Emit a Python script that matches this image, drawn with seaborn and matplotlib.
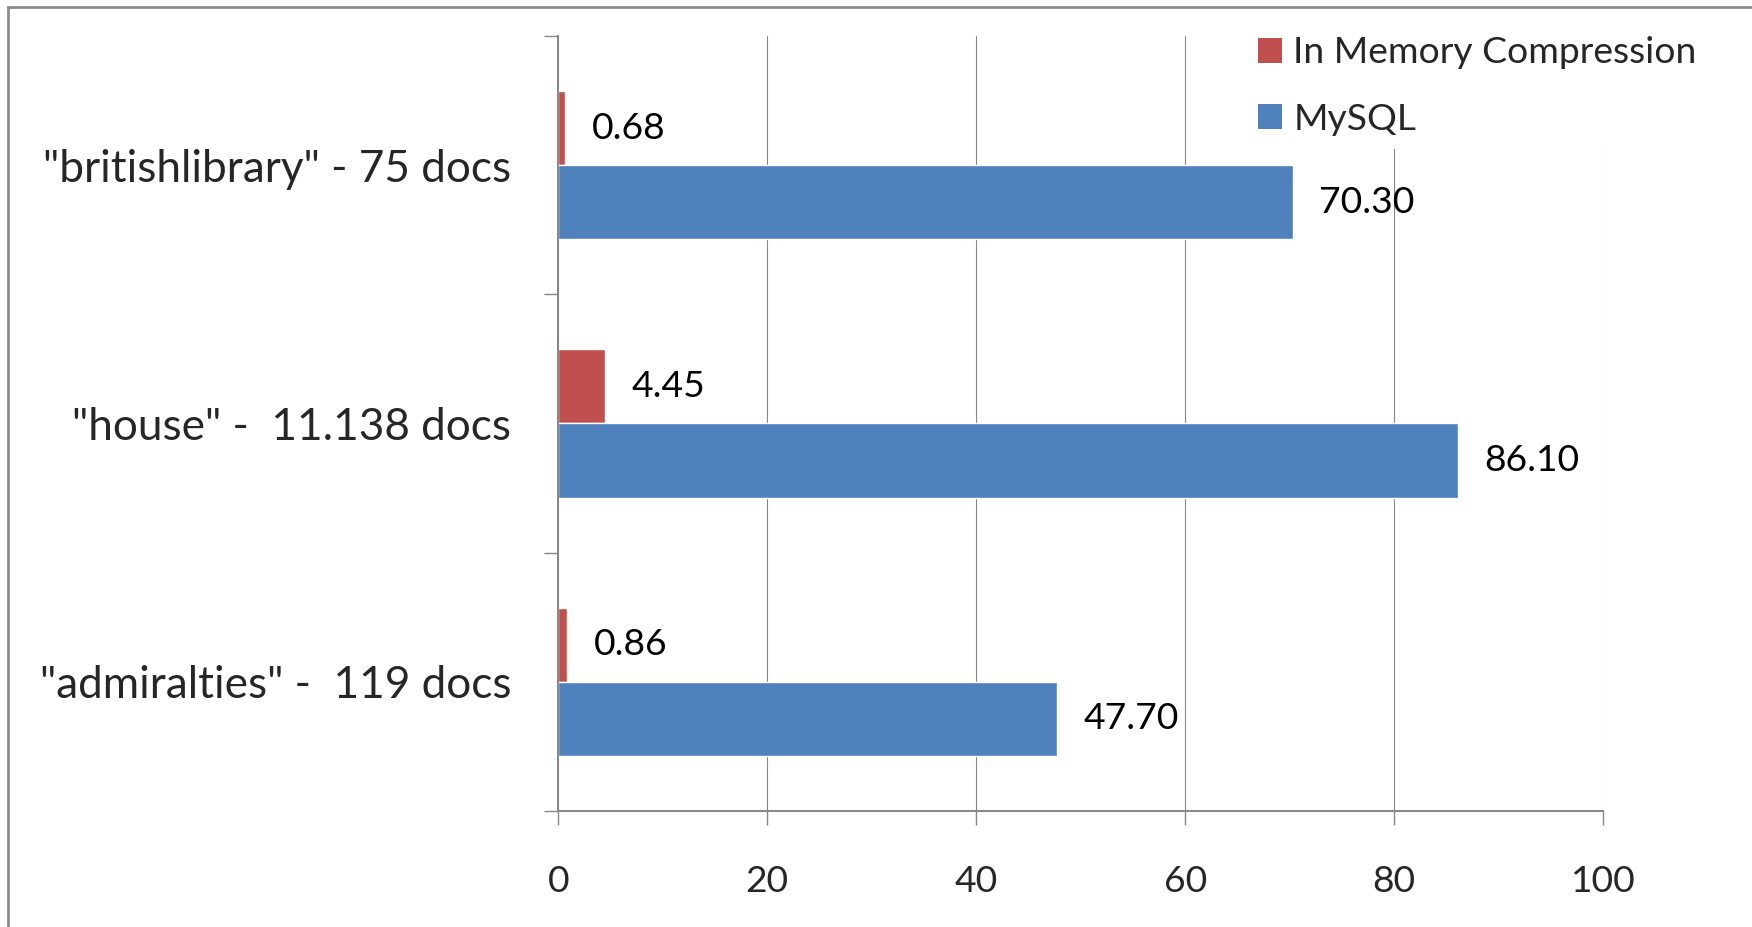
import matplotlib
matplotlib.use("Agg")
import matplotlib.pyplot as plt
import pandas as pd
import seaborn as sns
from matplotlib.patches import Patch, Rectangle
from matplotlib.ticker import FixedLocator

# Chart data (query time in seconds per dataset)
categories = ['"britishlibrary" - 75 docs', '"house" -  11.138 docs', '"admiralties" -  119 docs']
series_names = ["In Memory Compression", "MySQL"]
in_memory = [0.68, 4.45, 0.86]
mysql = [70.30, 86.10, 47.70]
x_ticks = [0, 20, 40, 60, 80, 100]
colors = ["#C0504D", "#4F81BD"]

df = pd.DataFrame({
    "dataset": categories * 2,
    "series": [series_names[0]] * len(categories) + [series_names[1]] * len(categories),
    "seconds": in_memory + mysql,
})

sns.set_style("white")
plt.rcParams["font.family"] = ["Lato", "DejaVu Sans"]

grey = "#868686"
fig = plt.figure(figsize=(17.52, 9.27), dpi=100)
ax = fig.add_axes([0.3187, 0.1251, 0.9150 - 0.3187, 0.9612 - 0.1251])

sns.barplot(data=df, x="seconds", y="dataset", hue="series",
            order=categories, hue_order=series_names, palette=colors,
            orient="h", width=0.575, gap=0, saturation=1, errorbar=None,
            legend=False, ax=ax)

# value labels to the right of each bar
for container in ax.containers:
    ax.bar_label(container, fmt="%.2f", padding=19, fontsize=26.8, color="black")

ax.set_xlim(0, 100)
ax.set_ylim(len(categories) - 0.5, -0.5)
ax.set_xticks(x_ticks)
ax.set_xlabel("")
ax.set_ylabel("")

# gridlines and spines in Excel grey
ax.set_axisbelow(True)
ax.grid(axis="x", color=grey, linewidth=0.8)
ax.grid(axis="y", visible=False)
for side in ["top", "right"]:
    ax.spines[side].set_visible(False)
for side in ["left", "bottom"]:
    ax.spines[side].set_color(grey)
    ax.spines[side].set_linewidth(1.4)

ax.tick_params(axis="x", length=10, width=1, color=grey, pad=29, labelsize=26.8, direction="out")
ax.tick_params(axis="y", which="major", length=0, pad=34, labelsize=31.8)
ax.yaxis.set_minor_locator(FixedLocator([-0.5, 0.5, 1.5, 2.5]))
ax.tick_params(axis="y", which="minor", length=10, width=1, color=grey, direction="out")
ax.xaxis.set_ticks_position("bottom")
ax.yaxis.set_ticks_position("left")

# legend in the top right corner, white box hides the gridlines
handles = [Patch(facecolor=c, edgecolor="none") for c in colors]
leg = fig.legend(handles, series_names, loc="upper left",
                 bbox_to_anchor=(0.7106, 0.975), fontsize=26.8,
                 frameon=True, facecolor="white", edgecolor="none", framealpha=1,
                 handlelength=0.65, handleheight=0.65, handletextpad=0.3,
                 labelspacing=0.9, borderpad=0.35, borderaxespad=0)

# chart area border (cut off on the right and bottom)
fig.add_artist(Rectangle((8 / 1752, -0.1), 1.2, 1.1 - 7 / 927, transform=fig.transFigure,
                         fill=False, edgecolor="#8c8c8c", linewidth=2))

fig.savefig("out.png", dpi=100)
